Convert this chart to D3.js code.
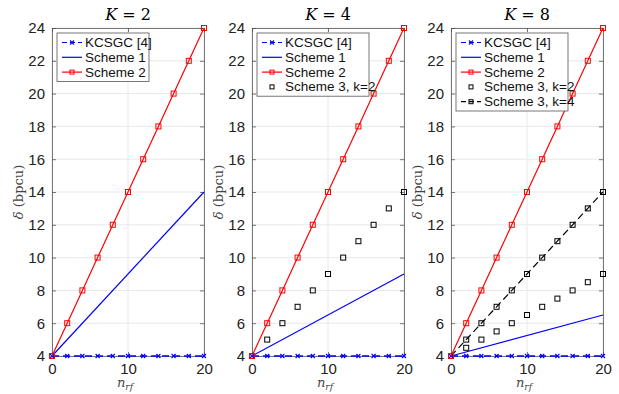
<!DOCTYPE html>
<html lang="en">
<head>
<meta charset="UTF-8" />
<title>delta vs n_rf</title>
<script src="https://cdn.jsdelivr.net/npm/d3@7"></script>
<style>
  body { margin: 0; background: #fff; }
  svg text { font-family: "Liberation Sans", Arial, sans-serif; }
  .math { font-family: "DejaVu Serif", "Liberation Serif", serif; }
</style>
</head>
<body>
<svg id="chart" width="619" height="394"></svg>
<script>
// data
var nrf = [0, 2, 4, 6, 8, 10, 12, 14, 16, 18, 20];
var kcsgc = [4, 4, 4, 4, 4, 4, 4, 4, 4, 4, 4];
var scheme2 = [4, 6, 8, 10, 12, 14, 16, 18, 20, 22, 24];
var scheme1K2 = [4, 14];
var scheme1K4 = [4, 9];
var scheme1K8 = [4, 6.5];
var scheme1X = [0, 20];
var scheme3K4k2 = [4, 5, 6, 7, 8, 9, 10, 11, 12, 13, 14];
var scheme3K8k2 = [4, 4.5, 5, 5.5, 6, 6.5, 7, 7.5, 8, 8.5, 9];
var scheme3K8k4 = [4, 5, 6, 7, 8, 9, 10, 11, 12, 13, 14];
var panelTitles = ["2", "4", "8"];
var xTicks = [0, 10, 20];
var yTicks = [4, 6, 8, 10, 12, 14, 16, 18, 20, 22, 24];

var panels = [
  {k: panelTitles[0], left: 52, s1: scheme1K2, extra: []},
  {k: panelTitles[1], left: 252, s1: scheme1K4, extra: [{name: "Scheme 3, k=2", vals: scheme3K4k2, line: false}]},
  {k: panelTitles[2], left: 451, s1: scheme1K8, extra: [
     {name: "Scheme 3, k=2", vals: scheme3K8k2, line: false},
     {name: "Scheme 3, k=4", vals: scheme3K8k4, line: true}]}
];

var svg = d3.select("#chart");
var plotTop = 28, h = 328, w = 152;

panels.forEach(function(p) {
  var g = svg.append("g").attr("transform", "translate(" + p.left + "," + plotTop + ")");
  var x = d3.scaleLinear().domain([0, 20]).range([0, w]);
  var y = d3.scaleLinear().domain([4, 24]).range([h, 0]);

  // grid
  g.selectAll(".gy").data(yTicks).enter().append("line")
    .attr("x1", 0).attr("x2", w)
    .attr("y1", function(d){ return y(d); }).attr("y2", function(d){ return y(d); })
    .attr("stroke", "#e8e8e8").attr("stroke-width", 1);
  g.selectAll(".gx").data(xTicks).enter().append("line")
    .attr("y1", 0).attr("y2", h)
    .attr("x1", function(d){ return x(d); }).attr("x2", function(d){ return x(d); })
    .attr("stroke", "#e8e8e8").attr("stroke-width", 1);

  // axes
  g.append("g").attr("transform", "translate(0," + h + ")")
    .call(d3.axisBottom(x).tickValues(xTicks).tickSize(-4).tickPadding(7));
  g.append("g")
    .call(d3.axisLeft(y).tickValues(yTicks).tickSize(-4).tickPadding(7));
  g.append("g")
    .call(d3.axisTop(x).tickValues(xTicks).tickSize(-4).tickFormat(""));
  g.append("g").attr("transform", "translate(" + w + ",0)")
    .call(d3.axisRight(y).tickValues(yTicks).tickSize(-4).tickFormat(""));
  g.selectAll(".domain, .tick line").attr("stroke", "#555").attr("stroke-width", 0.8);
  g.selectAll(".tick text").attr("font-size", 15).attr("fill", "#222")
    .style("font-family", "Liberation Sans, Arial, sans-serif");

  var line = d3.line().x(function(d){ return x(d[0]); }).y(function(d){ return y(d[1]); });

  function square(sel, pts, color) {
    sel.selectAll(null).data(pts).enter().append("rect")
      .attr("x", function(d){ return x(d[0]) - 2.5; })
      .attr("y", function(d){ return y(d[1]) - 2.5; })
      .attr("width", 5).attr("height", 5)
      .attr("fill", "none").attr("stroke", color).attr("stroke-width", 1);
  }
  function cross(sel, pts, color) {
    sel.selectAll(null).data(pts).enter().append("path")
      .attr("d", function(d){ var cx = x(d[0]), cy = y(d[1]);
        return "M" + (cx-2) + "," + (cy-2) + "L" + (cx+2) + "," + (cy+2) +
               "M" + (cx-2) + "," + (cy+2) + "L" + (cx+2) + "," + (cy-2); })
      .attr("stroke", color).attr("stroke-width", 1.1);
  }

  var plot = g.append("g");
  // KCSGC
  var kPts = nrf.map(function(n, i){ return [n, kcsgc[i]]; });
  plot.append("path").attr("d", line(kPts)).attr("fill", "none")
    .attr("stroke", "#0000ff").attr("stroke-width", 1.3).attr("stroke-dasharray", "7,4");
  cross(plot, kPts, "#0000ff");
  // extra scheme 3
  p.extra.forEach(function(e) {
    var pts = nrf.map(function(n, i){ return [n, e.vals[i]]; });
    if (e.line) {
      plot.append("path").attr("d", line(pts)).attr("fill", "none")
        .attr("stroke", "#000").attr("stroke-width", 1.2).attr("stroke-dasharray", "7,4");
    }
    square(plot, pts, "#000");
  });
  // Scheme 1
  var s1 = scheme1X.map(function(n, i){ return [n, p.s1[i]]; });
  plot.append("path").attr("d", line(s1)).attr("fill", "none")
    .attr("stroke", "#0000ff").attr("stroke-width", 1.2);
  // Scheme 2
  var s2 = nrf.map(function(n, i){ return [n, scheme2[i]]; });
  plot.append("path").attr("d", line(s2)).attr("fill", "none")
    .attr("stroke", "#ff0000").attr("stroke-width", 1.2);
  square(plot, s2, "#ff0000");

  // title
  svg.append("text").attr("class", "math")
    .attr("x", p.left + w / 2).attr("y", 20).attr("text-anchor", "middle")
    .attr("font-size", 16)
    .html('<tspan font-style="italic">K</tspan> = ' + p.k);
  // x label
  svg.append("text").attr("class", "math")
    .attr("x", p.left + w / 2 - 3).attr("y", 387).attr("text-anchor", "middle")
    .attr("font-size", 13).attr("fill", "#444")
    .html('<tspan font-style="italic">n</tspan><tspan font-style="italic" font-size="9" dy="3">rf</tspan>');
  // y label
  svg.append("text").attr("class", "math")
    .attr("transform", "translate(" + (p.left - 29) + "," + (plotTop + h / 2) + ") rotate(-90)")
    .attr("text-anchor", "middle").attr("font-size", 13).attr("fill", "#444")
    .html('<tspan font-style="italic">δ</tspan> (bpcu)');

  // legend
  var items = [
    {name: "KCSGC [4]", color: "#0000ff", dash: "5,3", mark: "x", line: true},
    {name: "Scheme 1", color: "#0000ff", dash: null, mark: null, line: true},
    {name: "Scheme 2", color: "#ff0000", dash: null, mark: "sq", line: true}
  ];
  p.extra.forEach(function(e) {
    items.push({name: e.name, color: "#000", dash: e.line ? "5,3" : null, mark: "sq", line: e.line});
  });
  var lw = p.extra.length ? 112 : 92;
  var lx = p.left + 5, ly = plotTop + 5;
  var leg = svg.append("g").attr("transform", "translate(" + lx + "," + ly + ")");
  leg.append("rect").attr("width", lw).attr("height", 4 + items.length * 14.8)
    .attr("fill", "#fff").attr("stroke", "#555").attr("stroke-width", 0.8);
  items.forEach(function(it, i) {
    var cy = 9.5 + i * 14.8;
    if (it.line) {
      leg.append("line").attr("x1", 5).attr("x2", 25).attr("y1", cy).attr("y2", cy)
        .attr("stroke", it.color).attr("stroke-width", 1.2)
        .attr("stroke-dasharray", it.dash);
    }
    if (it.mark === "sq") {
      leg.append("rect").attr("x", 13).attr("y", cy - 2).attr("width", 4).attr("height", 4)
        .attr("fill", "none").attr("stroke", it.color).attr("stroke-width", 1);
    } else if (it.mark === "x") {
      leg.append("path").attr("d", "M13," + (cy-2) + "L17," + (cy+2) + "M13," + (cy+2) + "L17," + (cy-2))
        .attr("stroke", it.color).attr("stroke-width", 1.1);
    }
    leg.append("text").attr("x", 28).attr("y", cy + 4.5).attr("font-size", 13.5)
      .attr("fill", "#111").text(it.name);
  });
});
</script>
</body>
</html>
